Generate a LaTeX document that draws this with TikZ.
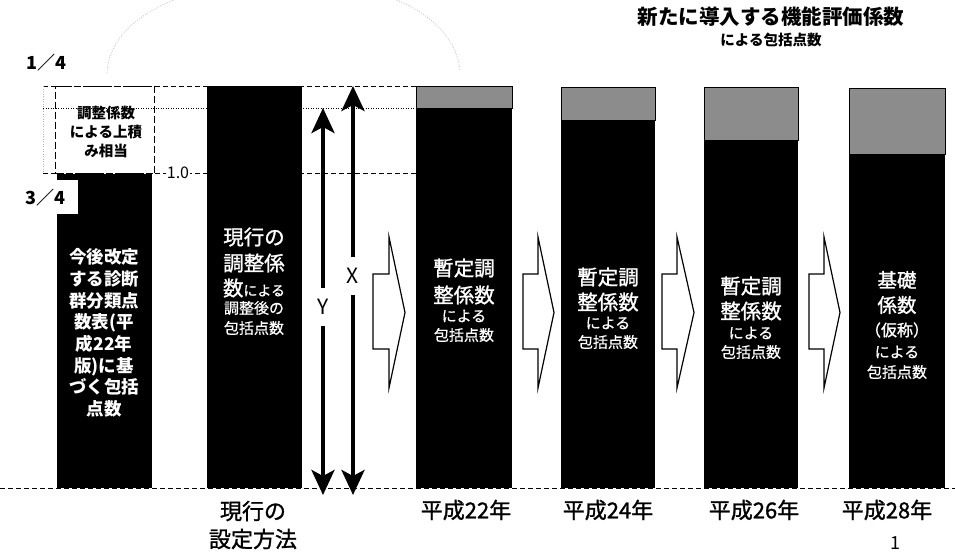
\documentclass[tikz,border=0pt]{standalone}
\usepackage{fontspec}
\setmainfont{Noto Sans CJK JP}
\newfontfamily\jpmed{Noto Sans CJK JP}[FakeBold=1.2]
\newfontfamily\jplight{Noto Sans CJK JP}[FakeBold=0.6]
\usetikzlibrary{arrows.meta}
\begin{document}
\begin{tikzpicture}[x=1pt,y=-1pt,
  guide/.style={dash pattern=on 5pt off 3pt,line width=0.7pt},
  dotline/.style={dash pattern=on 1pt off 1.5pt,line width=0.8pt},
  graytop/.style={fill=black!45,draw=black,line width=0.6pt},
  blockarrow/.style={fill=white,draw=black,line width=1.2pt,line join=miter},
  dblarrow/.style={line width=4pt,{Stealth[width=23pt,length=25pt,inset=6pt]}-{Stealth[width=23pt,length=25pt,inset=6pt]}},
  wb/.style={text=white,inner sep=0pt,font=\jpmed\fontsize{20.5}{20.5}\selectfont},
  ws/.style={text=white,inner sep=0pt,font=\jplight\fontsize{15}{15}\selectfont},
  lbl/.style={inner sep=0pt,font=\jpmed\fontsize{22}{22}\selectfont},
  frac/.style={inner sep=0pt,font=\bfseries\fontsize{18}{18}\selectfont},
  xy/.style={fill=white,inner xsep=1pt,inner ysep=0pt,minimum height=38pt,font=\fontsize{21}{21}\selectfont}
]
\useasboundingbox (0,0) rectangle (955,557);

% guide lines
\draw[guide] (43,86) -- (416,86);
\draw[dotline] (43,108) -- (416,108);
\draw[guide] (43,173) -- (416,173);
\draw[guide] (0,488) -- (955,488);
\draw[gray!60,dotline] (43,86) -- (43,173);

% faint arc
\draw[gray!45,dotline] (107,73) .. controls (112,-45) and (445,-55) .. (460,70);

% dashed box
\node[draw,line width=1.4pt,dash pattern=on 7pt off 3pt,minimum width=99pt,minimum height=87pt,anchor=north west,inner sep=0pt] (box) at (55,86) {};
\node[align=center,inner sep=0pt,font=\bfseries\fontsize{14.5}{19}\selectfont] (boxtxt) at (106,132) {調整係数\\による上積\\み相当};

% bar 1
\fill (57,174) rectangle (152,488);
\fill[white] (50,180) rectangle (78,214);
\node[align=center,text=white,inner sep=0pt,font=\bfseries\fontsize{17.5}{21.7}\selectfont] (b1) at (104,333) {今後改定\\する診断\\群分類点\\数表(平\\成22年\\版)に基\\づく包括\\点数};

% labels left
\node[frac] (q1) at (46,63) {1／4};
\node[frac] (q3) at (45,198) {3／4};
\node[fill=white,inner sep=1pt,font=\fontsize{16}{16}\selectfont] (one) at (178,173) {1.0};

% bar 2
\fill (207,86) rectangle (302,488);
\node[wb] (b2a) at (254,237) {現行の};
\node[wb] (b2b) at (254,263) {調整係};
\node[text=white,inner sep=0pt] (b2c) at (254,288) {\jpmed\fontsize{20.5}{20.5}\selectfont 数\jplight\fontsize{14}{14}\selectfont による};
\node[ws] (b2d) at (254,308) {調整後の};
\node[ws] (b2e) at (254,328) {包括点数};

% X / Y arrows
\coordinate (Yt) at (323,108);
\coordinate (Yb) at (323,495);
\coordinate (Xt) at (353,86);
\coordinate (Xb) at (353,495);
\draw[dblarrow] (Yt) -- (Yb);
\draw[dblarrow] (Xt) -- (Xb);
\node[xy] (ylab) at (323,307) {Y};
\node[xy] (xlab) at (353,276) {X};

% bar 3
\filldraw[graytop] (416,86) rectangle (512,108);
\fill (416,108) rectangle (512,488);
\node[wb] (b3a) at (464,268) {暫定調};
\node[wb] (b3b) at (464,295) {整係数};
\node[ws] (b3c) at (464,316) {による};
\node[ws] (b3d) at (464,335) {包括点数};

% bar 4
\filldraw[graytop] (561,87) rectangle (655,120);
\fill (561,120) rectangle (655,488);
\node[wb] (b4a) at (608,277) {暫定調};
\node[wb] (b4b) at (608,302) {整係数};
\node[ws] (b4c) at (608,323) {による};
\node[ws] (b4d) at (608,342) {包括点数};

% bar 5
\filldraw[graytop] (704,87) rectangle (798,140);
\fill (704,140) rectangle (798,488);
\node[wb] (b5a) at (751,286) {暫定調};
\node[wb] (b5b) at (751,311) {整係数};
\node[ws] (b5c) at (751,333) {による};
\node[ws] (b5d) at (751,352) {包括点数};

% bar 6
\filldraw[graytop] (849,88) rectangle (945,154);
\fill (849,154) rectangle (945,488);
\node[wb,font=\jpmed\fontsize{19.5}{19.5}\selectfont] (b6a) at (897,280) {基礎};
\node[wb,font=\jpmed\fontsize{19.5}{19.5}\selectfont] (b6b) at (897,305) {係数};
\node[wb,font=\jpmed\fontsize{16}{16}\selectfont] (b6c) at (897,330) {（仮称）};
\node[ws] (b6d) at (897,352) {による};
\node[ws] (b6e) at (897,372) {包括点数};

% block arrows
\foreach \a/\b/\c in {373/389/405, 523/538/554, 662/677/694, 809/824/840}{
  \filldraw[blockarrow] (\a,274) -- (\b,274) -- (\b,237) -- (\c,312.5) -- (\b,388) -- (\b,349) -- (\a,349) -- cycle;
}

% title
\node[inner sep=0pt,font=\bfseries\fontsize{20.5}{20.5}\selectfont] (t1) at (771,17) {新たに導入する機能評価係数};
\node[inner sep=0pt,font=\bfseries\fontsize{14.5}{14.5}\selectfont] (t2) at (771,40) {による包括点数};

% bottom labels
\node[lbl] (l0a) at (253,511) {現行の};
\node[lbl] (l0b) at (253,539) {設定方法};
\node[lbl] (l1) at (466,510) {平成22年};
\node[lbl] (l2) at (608,510) {平成24年};
\node[lbl] (l3) at (754,510) {平成26年};
\node[lbl] (l4) at (887,510) {平成28年};
\node[inner sep=0pt,font=\fontsize{18}{18}\selectfont] (pg) at (895,543) {1};
\end{tikzpicture}
\end{document}
